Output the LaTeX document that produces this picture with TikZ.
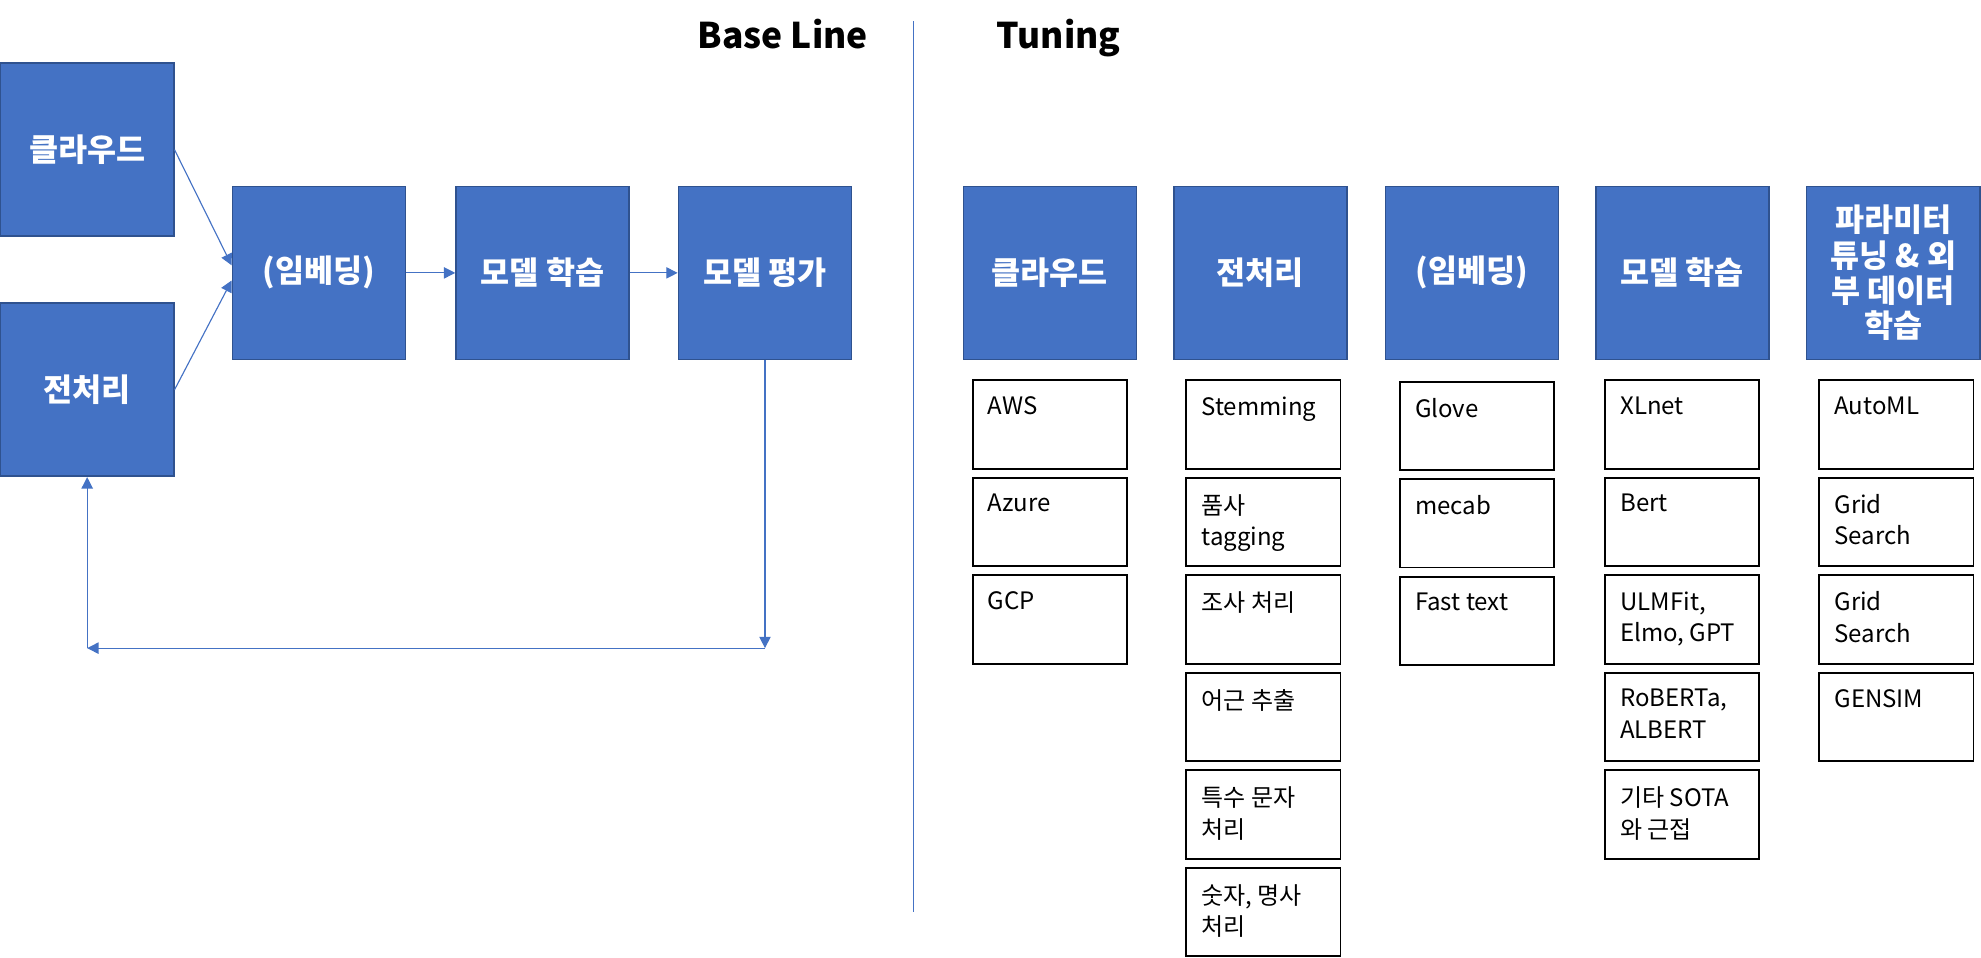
\documentclass[tikz,border=0pt]{standalone}
\usepackage{fontspec}
\setmainfont{Noto Sans CJK KR}
\usetikzlibrary{arrows.meta}
\definecolor{stageblue}{HTML}{4472C4}
\definecolor{stageline}{HTML}{2F528F}
\tikzset{
    stage/.style={draw=stageline, line width=1.3pt, fill=stageblue, minimum width=137pt, minimum height=137pt, inner sep=2pt, text=white, align=center, font=\bfseries\fontsize{25pt}{28pt}\selectfont},
    item/.style={draw=black, line width=1.5pt, inner xsep=12pt, inner ysep=13pt, font=\fontsize{19pt}{25pt}\selectfont},
    flow/.style={draw=stageblue, line width=0.9pt, -{Triangle[length=9pt,width=9pt]}},
    title/.style={font=\bfseries\fontsize{28pt}{34pt}\selectfont, anchor=base}
}
\newcommand{\itemtext}[1]{\parbox[t][44pt][t]{98pt}{\raggedright #1}}
\begin{document}
\begin{tikzpicture}[x=1pt,y=-1pt]
        \useasboundingbox (0,0) rectangle (1568,758);
        \node[title] (baseTitle) at (619.5,38) {Base Line};
        \node[title] (tuneTitle) at (838,38) {Tuning};
        \draw[stageblue, line width=0.8pt] (723,17) -- (723,722);
        
        \node[stage] (bCloud) at (69,118.5) {클라우드};
        \node[stage] (bPrep) at (69,308.5) {전처리};
        \node[stage] (bEmb) at (252.5,216) {(임베딩)};
        \node[stage] (bTrain) at (429.5,216) {모델 학습};
        \node[stage] (bEval) at (605.5,216) {모델 평가};
        
        \draw[flow] (bCloud.east) -- ([yshift=6pt]bEmb.west);
        \draw[flow] (bPrep.east) -- ([yshift=-6pt]bEmb.west);
        \draw[flow] (bEmb) -- (bTrain);
        \draw[flow] (bTrain) -- (bEval);
        \coordinate (loopR) at (bEval.south |- 0,513);
        \coordinate (loopL) at (bPrep.south |- 0,513);
        \draw[flow] (bEval.south) -- (loopR);
        \draw[flow] (loopR) -- (loopL);
        \draw[flow] (loopL) -- (bPrep.south);
        
        \node[stage] (tCloud) at (831,216) {클라우드};
        \node[stage] (tPrep) at (997.5,216) {전처리};
        \node[stage] (tEmb) at (1165,216) {(임베딩)};
        \node[stage] (tTrain) at (1331.5,216) {모델 학습};
        \node[stage] (tParam) at (1498.5,216) {파라미터\\튜닝 \& 외\\부 데이터\\학습};
        
        \foreach \t [count=\i] in {AWS, Azure, GCP}
            \node[item] (cloud-\i) at (831,{336+77.2*(\i-1)}) {\itemtext{\t}};
        \foreach \t [count=\i] in {Stemming, 품사\\tagging, 조사 처리, 어근 추출, 특수 문자\\처리, {숫자, 명사\\처리}}
            \node[item] (prep-\i) at (1000,{336+77.2*(\i-1)}) {\itemtext{\t}};
        \foreach \t [count=\i] in {Glove, mecab, Fast text}
            \node[item] (emb-\i) at (1169,{337+77.2*(\i-1)}) {\itemtext{\t}};
        \foreach \t [count=\i] in {XLnet, Bert, {ULMFit,\\Elmo, GPT}, {RoBERTa,\\ALBERT}, 기타 SOTA\\와 근접}
            \node[item] (train-\i) at (1331.5,{336+77.2*(\i-1)}) {\itemtext{\t}};
        \foreach \t [count=\i] in {AutoML, Grid\\Search, Grid\\Search, GENSIM}
            \node[item] (param-\i) at (1501,{336+77.2*(\i-1)}) {\itemtext{\t}};
        
    \end{tikzpicture}
\end{document}
